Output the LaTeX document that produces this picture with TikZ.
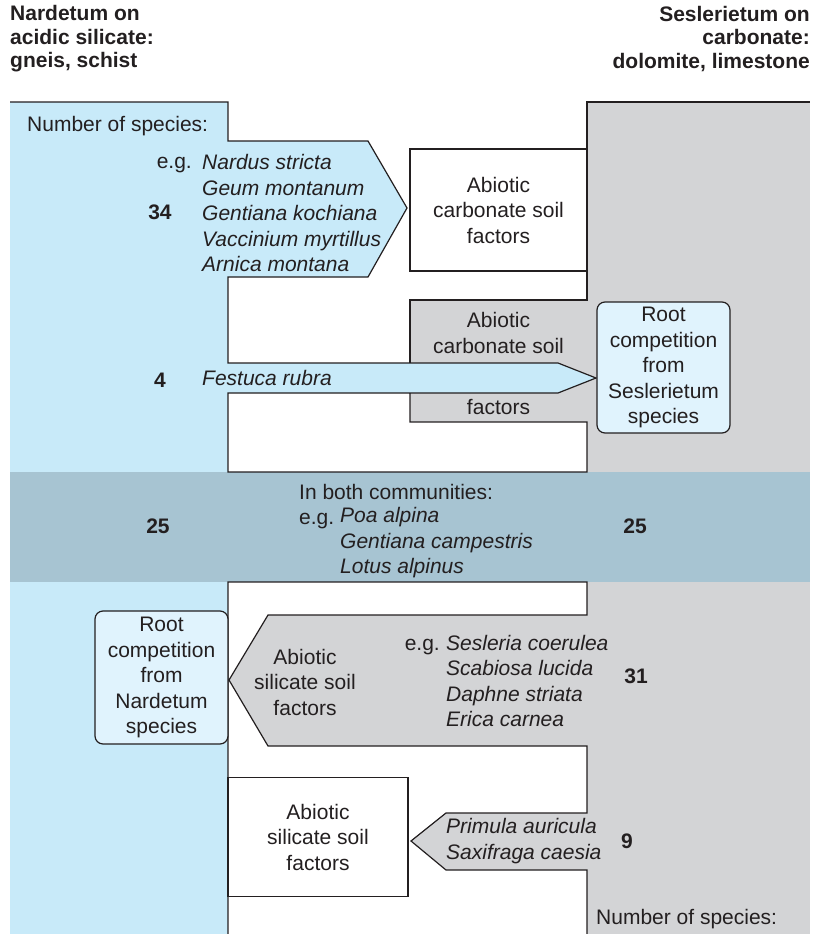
\documentclass[tikz,border=0pt]{standalone}
\usepackage{fontspec}
\setmainfont{Liberation Sans}
\usepackage{tikz}

\definecolor{ink}{HTML}{231F20}
\definecolor{nardblue}{RGB}{200,234,249}
\definecolor{seslgray}{RGB}{211,212,214}
\definecolor{bothblue}{RGB}{167,196,210}
\definecolor{rootblue}{RGB}{224,243,253}

\newcommand{\txtsize}{\fontsize{21}{25.5}\selectfont}

\tikzset{
  lbl/.style={font=\txtsize, text=ink, inner sep=0pt, align=center},
  spp/.style={lbl, font=\txtsize\itshape, align=left},
  cnt/.style={lbl, font=\txtsize\bfseries},
  hdr/.style={lbl, font=\fontsize{21}{23.5}\selectfont\bfseries},
  rim/.style={draw=ink, line width=1.2pt},
  soilbox/.style={lbl, rim, fill=white, minimum width=177pt},
  rootbox/.style={lbl, rim, fill=rootblue, rounded corners=8pt,
    minimum width=133pt, minimum height=131pt}
}

\begin{document}
\begin{tikzpicture}[x=1pt,y=-1pt]
\useasboundingbox (0,0) rectangle (822,934);

\node[hdr, align=left, anchor=west] (nardhead) at (10,39) {Nardetum on\\acidic silicate:\\gneis, schist};
\node[hdr, align=right, anchor=east] (seslhead) at (810,39) {Seslerietum on\\carbonate:\\dolomite, limestone};

\fill[nardblue] (10,102) rectangle (228,934);
\fill[seslgray] (587,102) rectangle (810,934);
\fill[nardblue] (227,141) -- (368,141) -- (407,208) -- (368,277) -- (227,277) -- cycle;
\fill[seslgray] (410,300) rectangle (588,422);
\fill[nardblue] (227,363) -- (558,363) -- (596,378) -- (558,393) -- (227,393) -- cycle;
\fill[bothblue] (10,472) rectangle (810,582);
\fill[seslgray] (588,615) -- (268,615) -- (229,680) -- (268,746) -- (588,746) -- cycle;
\fill[seslgray] (588,813) -- (446,813) -- (411,841) -- (446,870) -- (588,870) -- cycle;

\draw[rim] (10,102) -- (228,102) -- (228,141) -- (368,141) -- (407,208) -- (368,277)
  -- (228,277) -- (228,363) -- (558,363) -- (596,378) -- (558,393) -- (228,393)
  -- (228,472) -- (587,472) -- (587,422) -- (410,422) -- (410,393);
\draw[rim] (410,363) -- (410,300) -- (587,300) -- (587,271);
\draw[rim] (587,149) -- (587,102) -- (810,102);
\draw[rim] (228,934) -- (228,582) -- (587,582) -- (587,615) -- (268,615) -- (229,680)
  -- (268,746) -- (587,746) -- (587,813) -- (446,813) -- (411,841) -- (446,870)
  -- (587,870) -- (587,934);

\node[soilbox, minimum height=122pt] (carbtop) at (498.5,210) {Abiotic\\carbonate soil\\factors};
\node[soilbox, minimum width=180pt, minimum height=119pt] (silbot) at (318,837) {Abiotic\\silicate soil\\factors};
\node[rootbox] (rootsesl) at (663.5,367.5) {Root\\competition\\from\\Seslerietum\\species};
\node[rootbox, minimum height=133pt] (rootnard) at (161.5,677.5) {Root\\competition\\from\\Nardetum\\species};

\node[lbl, anchor=base west] (nardcount) at (27,131) {Number of species:};
\node[lbl, anchor=base east] (eg1) at (192,168.5) {e.g.};
\node[spp, anchor=west] (nardspp) at (202,213) {Nardus stricta\\Geum montanum\\Gentiana kochiana\\Vaccinium myrtillus\\Arnica montana};
\node[cnt] (n34) at (160,212) {34};

\node[lbl] (carbmid) at (498.5,333) {Abiotic\\carbonate soil};
\node[lbl] (carbfac) at (498.5,407) {factors};
\node[cnt] (n4) at (160,380) {4};
\node[spp, anchor=west] (festuca) at (202,378) {Festuca rubra};

\node[cnt] (n25a) at (158,526) {25};
\node[cnt] (n25b) at (635,526) {25};
\node[lbl, anchor=base west] (both) at (299,499) {In both communities:};
\node[lbl, anchor=base west] (eg2) at (299,524.5) {e.g.};
\node[spp, anchor=west] (bothspp) at (340,543) {Poa alpina\\Gentiana campestris\\Lotus alpinus};

\node[lbl, anchor=base east] (eg3) at (440,650.5) {e.g.};
\node[spp, anchor=west] (seslspp) at (446,681) {Sesleria coerulea\\Scabiosa lucida\\Daphne striata\\Erica carnea};
\node[lbl] (silmid) at (305,682) {Abiotic\\silicate soil\\factors};
\node[cnt] (n31) at (636,676) {31};

\node[spp, anchor=west] (primula) at (446,841) {Primula auricula\\Saxifraga caesia};
\node[cnt] (n9) at (627,841) {9};
\node[lbl, anchor=base west] (seslcount) at (596,924) {Number of species:};
\end{tikzpicture}
\end{document}
